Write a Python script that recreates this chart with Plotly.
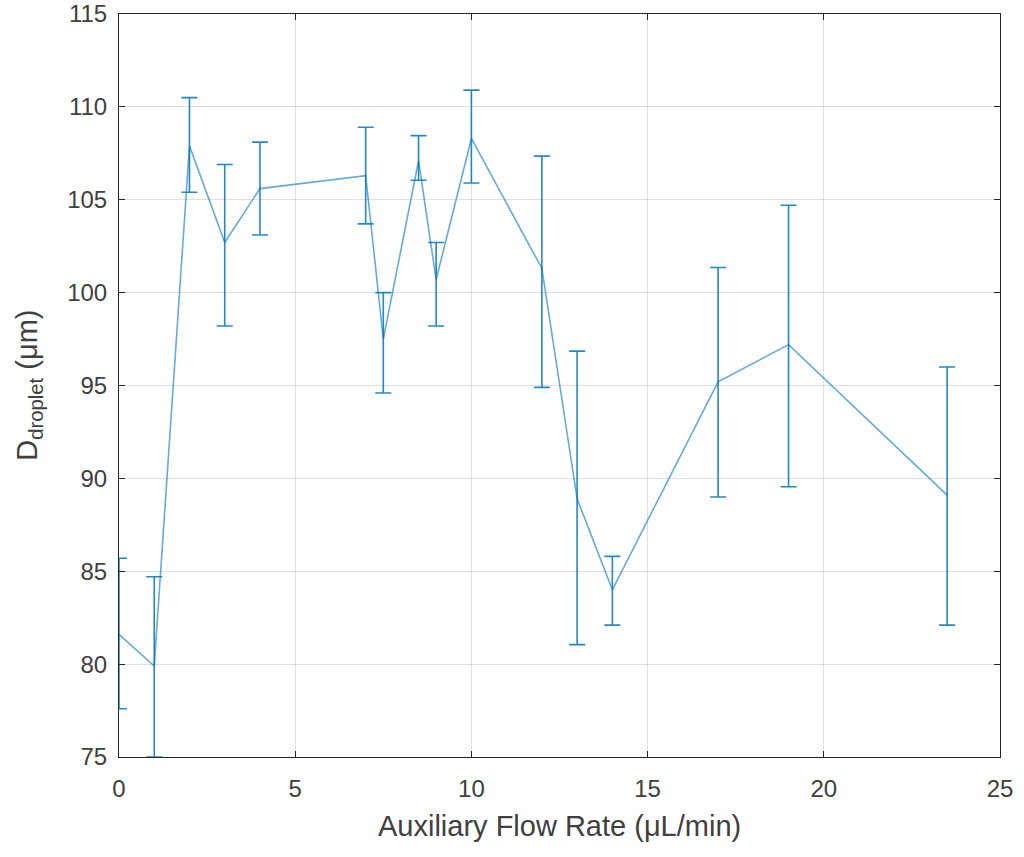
import plotly.graph_objects as go

flow_rate = [0, 1, 2, 3, 4, 7, 7.5, 8.5, 9, 10, 12, 13, 14, 17, 19, 23.5]
d_mean = [81.6, 79.9, 107.9, 102.7, 105.6, 106.3, 97.5, 107.1, 100.7, 108.3, 101.3, 88.9, 84.0, 95.2, 97.2, 89.1]
err_upper = [85.7, 84.7, 110.5, 106.9, 108.1, 108.9, 100.0, 108.45, 102.7, 110.9, 107.35, 96.85, 85.8, 101.35, 104.7, 96.0]
err_lower = [77.6, 75.0, 105.4, 98.2, 103.1, 103.7, 94.6, 106.05, 98.2, 105.9, 94.9, 81.05, 82.1, 89.0, 89.55, 82.1]

x_title = "Auxiliary Flow Rate (μL/min)"
y_title = "D<sub>droplet</sub> (μm)"

plus = [u - m for u, m in zip(err_upper, d_mean)]
minus = [m - l for m, l in zip(d_mean, err_lower)]

FONT = "Liberation Sans, Arial, sans-serif"
TXT = "#262626"

fig = go.Figure()
fig.add_trace(go.Scatter(
    x=flow_rate, y=d_mean, mode="lines",
    line=dict(color="rgba(0,114,189,0.6)", width=1.6),
    error_y=dict(type="data", symmetric=False, array=plus, arrayminus=minus,
                 color="rgba(0,114,189,0.85)", thickness=1.6, width=8),
    cliponaxis=False,
    showlegend=False,
))

axis_common = dict(
    showline=True, linecolor=TXT, linewidth=1, mirror="ticks",
    ticks="inside", ticklen=6, tickcolor=TXT,
    showgrid=True, gridcolor="rgba(0,0,0,0.12)", gridwidth=1,
    zeroline=False, automargin=False,
    tickfont=dict(family=FONT, size=24, color="#404040"),
)

fig.update_layout(
    width=1024, height=857,
    paper_bgcolor="white", plot_bgcolor="white",
    margin=dict(l=119, r=24, t=14, b=100),
    xaxis=dict(range=[0, 25], dtick=5, ticklabelstandoff=10, **axis_common),
    yaxis=dict(range=[75, 115], dtick=5, ticklabelstandoff=6, **axis_common),
    annotations=[
        dict(text=x_title, xref="paper", yref="paper", x=0.5, y=-0.093,
             xanchor="center", yanchor="middle", showarrow=False,
             font=dict(family=FONT, size=29, color="#404040")),
        dict(text=y_title, xref="paper", yref="paper", x=-0.103, y=0.5,
             xanchor="center", yanchor="middle", showarrow=False, textangle=-90,
             font=dict(family=FONT, size=29, color="#404040")),
    ],
)

fig.write_html("out.html")
